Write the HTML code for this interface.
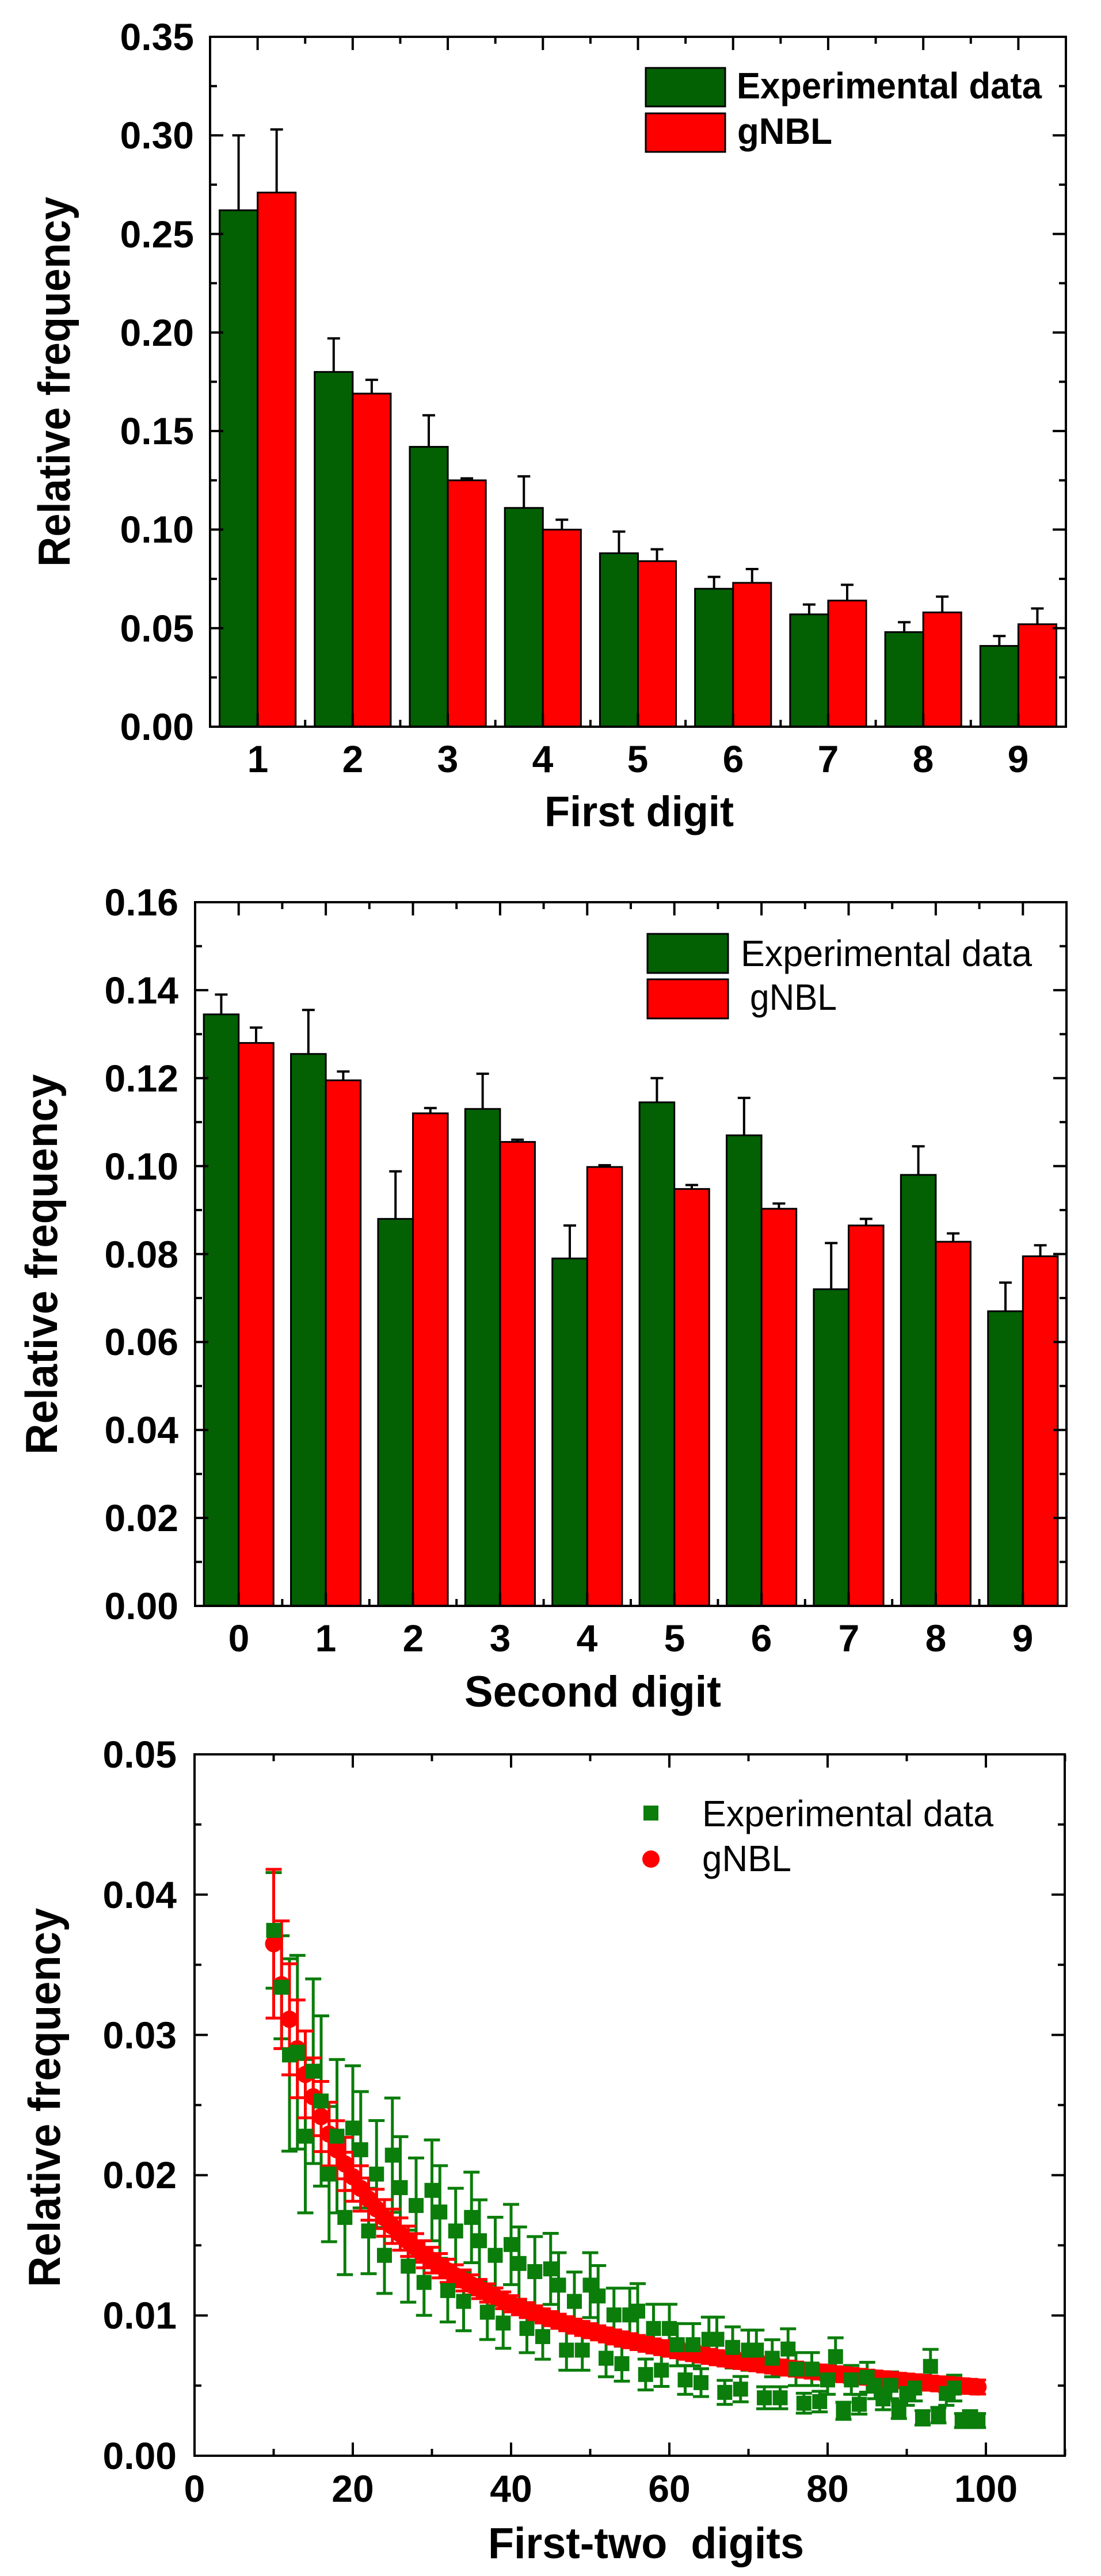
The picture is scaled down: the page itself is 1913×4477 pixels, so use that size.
<!DOCTYPE html>
<html><head><meta charset="utf-8"><style>
html,body{margin:0;padding:0;background:#fff}
svg{display:block}
text{font-family:"Liberation Sans",Arial,sans-serif;fill:#000}
.b{font-weight:bold}
</style></head><body>
<svg id="s" xmlns="http://www.w3.org/2000/svg" width="1913" height="4477" viewBox="0 0 1913 4477">
<rect width="1913" height="4477" fill="#fff"/>
<g id="g1"></g>
<!-- Plot 1 labels -->
<g class="b" font-size="66" text-anchor="end">
<text x="337" y="1286">0.00</text><text x="337" y="1115">0.05</text><text x="337" y="943">0.10</text><text x="337" y="772">0.15</text><text x="337" y="601">0.20</text><text x="337" y="430">0.25</text><text x="337" y="258">0.30</text><text x="337" y="87">0.35</text>
</g>
<g class="b" font-size="66" text-anchor="middle">
<text x="448" y="1342">1</text><text x="613" y="1342">2</text><text x="778" y="1342">3</text><text x="943" y="1342">4</text><text x="1108" y="1342">5</text><text x="1274" y="1342">6</text><text x="1439" y="1342">7</text><text x="1604" y="1342">8</text><text x="1769" y="1342">9</text>
</g>
<text class="b" x="946" y="1436" font-size="74" textLength="329" lengthAdjust="spacingAndGlyphs">First digit</text>
<text class="b" transform="translate(121,985) rotate(-90)" font-size="78" textLength="643" lengthAdjust="spacingAndGlyphs">Relative frequency</text>
<rect x="1122" y="118" width="138" height="67" fill="#036003" stroke="#000" stroke-width="3"/>
<rect x="1122" y="197" width="138" height="67" fill="#ff0000" stroke="#000" stroke-width="3"/>
<text class="b" x="1280" y="171" font-size="64" textLength="530" lengthAdjust="spacingAndGlyphs">Experimental data</text>
<text class="b" x="1281" y="250" font-size="64" textLength="165" lengthAdjust="spacingAndGlyphs">gNBL</text>

<!-- Plot 2 labels -->
<g class="b" font-size="66" text-anchor="end">
<text x="310" y="2814">0.00</text><text x="310" y="2661">0.02</text><text x="310" y="2508">0.04</text><text x="310" y="2355">0.06</text><text x="310" y="2203">0.08</text><text x="310" y="2050">0.10</text><text x="310" y="1897">0.12</text><text x="310" y="1744">0.14</text><text x="310" y="1591">0.16</text>
</g>
<g class="b" font-size="66" text-anchor="middle">
<text x="415" y="2870">0</text><text x="566" y="2870">1</text><text x="718" y="2870">2</text><text x="869" y="2870">3</text><text x="1020" y="2870">4</text><text x="1172" y="2870">5</text><text x="1323" y="2870">6</text><text x="1475" y="2870">7</text><text x="1626" y="2870">8</text><text x="1777" y="2870">9</text>
</g>
<text class="b" x="807" y="2966" font-size="76" textLength="446" lengthAdjust="spacingAndGlyphs">Second digit</text>
<text class="b" transform="translate(99,2528) rotate(-90)" font-size="78" textLength="661" lengthAdjust="spacingAndGlyphs">Relative frequency</text>
<rect x="1125" y="1623" width="140" height="68" fill="#036003" stroke="#000" stroke-width="3"/>
<rect x="1125" y="1702" width="140" height="68" fill="#ff0000" stroke="#000" stroke-width="3"/>
<text x="1287" y="1679" font-size="64" textLength="506" lengthAdjust="spacingAndGlyphs">Experimental data</text>
<text x="1303" y="1755" font-size="64" textLength="151" lengthAdjust="spacingAndGlyphs">gNBL</text>

<!-- Plot 3 labels -->
<g class="b" font-size="66" text-anchor="end">
<text x="307" y="4291">0.00</text><text x="307" y="4047">0.01</text><text x="307" y="3803">0.02</text><text x="307" y="3560">0.03</text><text x="307" y="3316">0.04</text><text x="307" y="3072">0.05</text>
</g>
<g class="b" font-size="66" text-anchor="middle">
<text x="338" y="4348">0</text><text x="613" y="4348">20</text><text x="888" y="4348">40</text><text x="1163" y="4348">60</text><text x="1438" y="4348">80</text><text x="1713" y="4348">100</text>
</g>
<text class="b" x="848" y="4446" font-size="76" textLength="549" lengthAdjust="spacingAndGlyphs" xml:space="preserve">First-two  digits</text>
<text class="b" transform="translate(104,3975) rotate(-90)" font-size="78" textLength="659" lengthAdjust="spacingAndGlyphs">Relative frequency</text>
<rect x="1118" y="3138" width="26" height="26" fill="#0a7d0a"/>
<circle cx="1131" cy="3231" r="15" fill="#ff0000"/>
<text x="1220" y="3174" font-size="64" textLength="506" lengthAdjust="spacingAndGlyphs">Experimental data</text>
<text x="1220" y="3252" font-size="64" textLength="155" lengthAdjust="spacingAndGlyphs">gNBL</text>
</svg>
<script>
(function(){
var NS="http://www.w3.org/2000/svg",g=document.getElementById("g1");
function el(t,a){var e=document.createElementNS(NS,t);for(var k in a)e.setAttribute(k,a[k]);g.appendChild(e);return e;}
function line(x1,y1,x2,y2,c,w){el("line",{x1:x1,y1:y1,x2:x2,y2:y2,stroke:c||"#000","stroke-width":w||4});}
function frame(L,T,R,B){el("rect",{x:L,y:T,width:R-L,height:B-T,fill:"none",stroke:"#000","stroke-width":4});}
function yticks(L,R,T,B,n,minor){var st=(B-T)/n;for(var i=0;i<=n;i++){var y=B-i*st;line(L,y,L+23,y);line(R,y,R-23,y);if(minor&&i<n){var ym=y-st/2;line(L,ym,L+12,ym);line(R,ym,R-12,ym);}}}
function bars(L,T,R,B,vmax,x0,unit,ncat,data){
 var yv=function(v){return B-v/vmax*(B-T);};
 var bw=unit*0.4;
 for(var i=0;i<ncat;i++){var c=L+(i+0.5)*unit,d=data[i];
  el("rect",{x:c-bw,y:yv(d[0]),width:bw,height:B-yv(d[0]),fill:"#036003",stroke:"#000","stroke-width":3});
  el("rect",{x:c,y:yv(d[2]),width:bw,height:B-yv(d[2]),fill:"#ff0000",stroke:"#000","stroke-width":3});
  var xg=c-bw/2,xr=c+bw/2;
  line(xg,yv(d[0]),xg,yv(d[1]),"#000",4);line(xg-11,yv(d[1]),xg+11,yv(d[1]),"#000",4);
  line(xr,yv(d[2]),xr,yv(d[3]),"#000",4);line(xr-11,yv(d[3]),xr+11,yv(d[3]),"#000",4);
 }
 for(var i=0;i<ncat;i++){var c=L+(i+0.5)*unit;line(c,B,c,B-23);line(c,T,c,T+23);
  if(i>0){var b=L+i*unit;line(b,B,b,B-12);line(b,T,b,T+12);}}
}
var d1=[[.262,.300,.271,.303],[.180,.197,.169,.176],[.142,.158,.125,.126],[.111,.127,.100,.105],[.088,.099,.084,.090],[.070,.076,.073,.080],[.057,.062,.064,.072],[.048,.053,.058,.066],[.041,.046,.052,.060]];
bars(365,64,1852,1263,0.35,0,(1852-365)/9,9,d1);
yticks(365,1852,64,1263,7,true);frame(365,64,1852,1263);
var d2=[[.1345,.139,.128,.1315],[.1255,.1355,.1195,.1215],[.088,.0988,.112,.1132],[.113,.121,.1055,.106],[.079,.0865,.0998,.1002],[.1145,.12,.0948,.0957],[.107,.1155,.0903,.0915],[.072,.0825,.0865,.088],[.098,.1045,.0828,.0847],[.067,.0735,.0795,.082]];
bars(339,1568,1853,2791,0.16,0,(1853-339)/10,10,d2);
yticks(339,1853,1568,2791,8,true);frame(339,1568,1853,2791);
var L=338,R=1850,T=3049,B=4268;
function X(d){return L+d*13.75;} function Y(v){return B-v/0.05*(B-T);}
var gy={10:375,11:480,12:605,13:600,14:755,15:635,16:690,17:825,18:755,19:905,20:740,21:780,22:930,23:825,24:975,25:790,26:850,27:995,28:883,29:1025,30:855,31:895,32:1040,33:930,34:1060,35:905,36:948,37:1080,38:975,39:1100,40:955,41:990,42:1110,43:1005,44:1125,45:1000,46:1030,47:1150,48:1060,49:1150,50:1030,51:1050,52:1165,53:1085,54:1175,55:1085,56:1078,57:1195,58:1110,59:1187,60:1110,61:1140,62:1205,63:1140,64:1210,65:1130,66:1130,67:1228,68:1145,69:1222,70:1150,71:1150,72:1238,73:1165,74:1238,75:1148,76:1185,77:1248,78:1185,79:1245,80:1205,81:1162,82:1262,83:1205,84:1250,85:1200,86:1215,87:1240,88:1215,89:1260,90:1230,91:1220,92:1275,93:1180,94:1270,95:1230,96:1220,97:1280,98:1275,99:1280};
var gv={};for(var d=10;d<=99;d++)gv[d]=(1345-gy[d])/1295*0.05;
function ge(d){var v=gv[d];var r=(d<=11)?0.11:((d<=19)?0.24:0.19);return Math.max(0.0005,v*r);}
var gc="#0a7d0a",rc="#ff0000";
for(var d=10;d<=99;d++){var x=X(d),v=gv[d],e=ge(d);line(x,Y(v+e),x,Y(v-e),gc,5);line(x-14,Y(v+e),x+14,Y(v+e),gc,5);line(x-14,Y(v-e),x+14,Y(v-e),gc,5);}
for(var d=10;d<=99;d++){var x=X(d),v=0.0365*Math.pow(d/10,-0.876),e=Math.max(0.0005,0.0053*Math.pow(10/d,1.6));
 line(x,Y(v+e),x,Y(v-e),rc,5);line(x-14,Y(v+e),x+14,Y(v+e),rc,5);line(x-14,Y(v-e),x+14,Y(v-e),rc,5);}
for(var d=10;d<=99;d++){var x=X(d),v=0.0365*Math.pow(d/10,-0.876);el("circle",{cx:x,cy:Y(v),r:15,fill:rc});}
for(var d=10;d<=99;d++){var x=X(d),v=gv[d];el("rect",{x:x-13,y:Y(v)-13,width:26,height:26,fill:gc});}
var st=(B-T)/5;for(var i=0;i<=5;i++){var y=B-i*st;line(L,y,L+23,y);line(R,y,R-23,y);if(i<5){var ym=y-st/2;line(L,ym,L+12,ym);line(R,ym,R-12,ym);}}
for(var k=0;k<=110;k+=10){var x=X(k);var len=(k%20==0)?23:12;line(x,B,x,B-len);line(x,T,x,T+len);}
frame(L,T,R,B);
})();
</script>
</body></html>
